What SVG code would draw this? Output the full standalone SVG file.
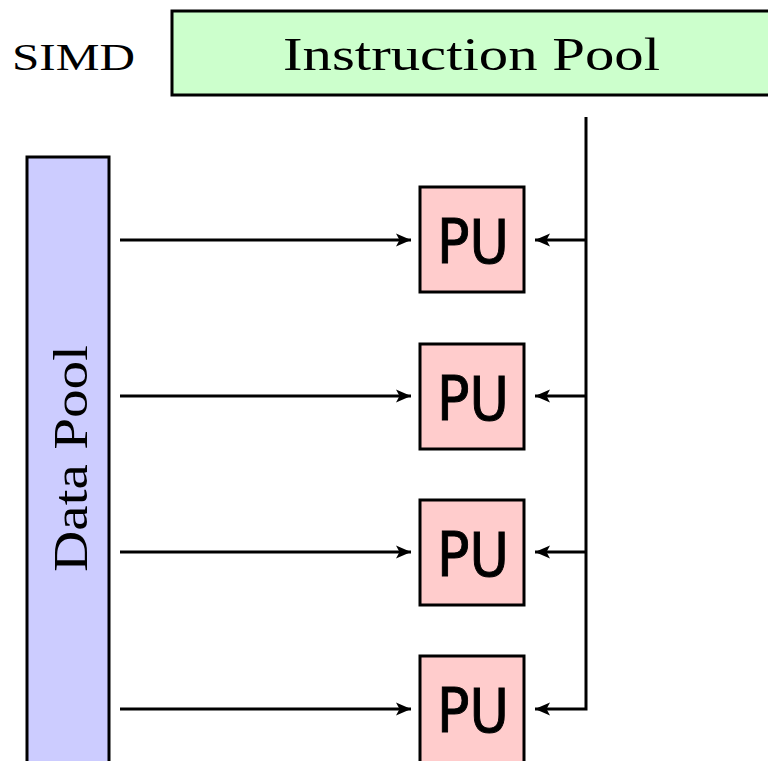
<svg xmlns="http://www.w3.org/2000/svg" width="768" height="761" viewBox="0 0 768 761">
<style>
.box{stroke:#000;stroke-width:3}
.serif{font-family:"Liberation Serif","DejaVu Serif",serif;fill:#000}
.pu{font-family:"DejaVu Sans","Liberation Sans",sans-serif;font-size:60px;fill:#000;stroke:#000;stroke-width:1;text-anchor:middle}
.conn{stroke:#000;stroke-width:3;fill:none}
</style>
<defs>
<marker id="ah" markerUnits="userSpaceOnUse" markerWidth="18" markerHeight="16" refX="15" refY="8" orient="auto">
<path d="M0,1.5 L15,8 L0,14.5 L3.5,8 Z" fill="#000"/>
</marker>
</defs>
<rect width="768" height="761" fill="#fff"/>
<g id="simd-label"><text class="serif" x="12" y="70" font-size="38" textLength="123" lengthAdjust="spacingAndGlyphs">SIMD</text></g>
<g id="instruction-pool">
<rect class="box" x="172" y="11" width="610" height="84" fill="#ccffcc"/>
<text class="serif" x="283" y="70" font-size="47" textLength="377" lengthAdjust="spacingAndGlyphs">Instruction Pool</text>
</g>
<g id="data-pool">
<rect class="box" x="27" y="157" width="82" height="620" fill="#ccccff"/>
<text class="serif" transform="translate(87,572) rotate(-90)" font-size="48" textLength="227" lengthAdjust="spacingAndGlyphs">Data Pool</text>
</g>
<g id="pu1"><rect class="box" x="420" y="187" width="104" height="105" fill="#ffcccc"/><text class="pu" x="473" y="263" textLength="72" lengthAdjust="spacingAndGlyphs">PU</text></g>
<g id="pu2"><rect class="box" x="420" y="344" width="104" height="105" fill="#ffcccc"/><text class="pu" x="473" y="420" textLength="72" lengthAdjust="spacingAndGlyphs">PU</text></g>
<g id="pu3"><rect class="box" x="420" y="500" width="104" height="105" fill="#ffcccc"/><text class="pu" x="473" y="576" textLength="72" lengthAdjust="spacingAndGlyphs">PU</text></g>
<g id="pu4"><rect class="box" x="420" y="656" width="104" height="110" fill="#ffcccc"/><text class="pu" x="473" y="732" textLength="72" lengthAdjust="spacingAndGlyphs">PU</text></g>
<g id="connectors">
<line class="conn" x1="120" y1="240" x2="411" y2="240" marker-end="url(#ah)"/>
<line class="conn" x1="120" y1="396" x2="411" y2="396" marker-end="url(#ah)"/>
<line class="conn" x1="120" y1="552" x2="411" y2="552" marker-end="url(#ah)"/>
<line class="conn" x1="120" y1="709" x2="411" y2="709" marker-end="url(#ah)"/>
<polyline class="conn" points="586,117 586,709 535,709" marker-end="url(#ah)"/>
<line class="conn" x1="586" y1="240" x2="535" y2="240" marker-end="url(#ah)"/>
<line class="conn" x1="586" y1="396" x2="535" y2="396" marker-end="url(#ah)"/>
<line class="conn" x1="586" y1="552" x2="535" y2="552" marker-end="url(#ah)"/>
</g>
</svg>
